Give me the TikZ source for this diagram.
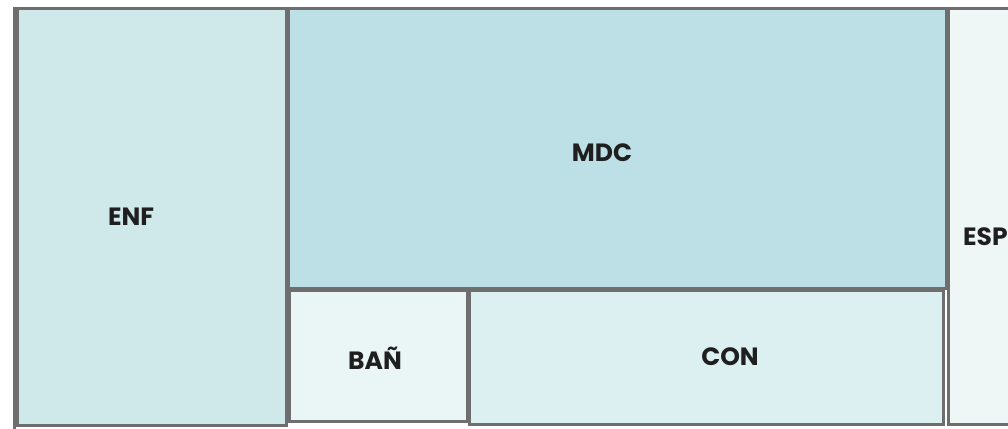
\documentclass[tikz,border=0pt]{standalone}
\usepackage{fontspec}
\setmainfont{Poppins}
\definecolor{edge}{HTML}{6E6E6E}
\definecolor{cEnf}{HTML}{CFE9EA}
\definecolor{cMdc}{HTML}{BCE0E5}
\definecolor{cBan}{HTML}{EAF5F6}
\definecolor{cCon}{HTML}{DCEFF1}
\definecolor{cEsp}{HTML}{EEF6F6}
\tikzset{
  room/.style={draw=edge, line width=3pt, anchor=north west, inner sep=0pt, outer sep=0pt},
  lbl/.style={font=\fontsize{25}{28}\selectfont\bfseries, text=black!88, inner sep=0pt}
}
\begin{document}
\begin{tikzpicture}[x=1pt,y=-1pt]
\useasboundingbox (0,0) rectangle (1008,428);
\fill[white] (0,0) rectangle (1008,428);
\node[draw=edge, line width=3pt, anchor=north west, minimum width=1020pt, minimum height=440pt, inner sep=0pt] (frame) at (13,7) {};
\node[room, fill=cEnf, minimum width=269pt, minimum height=416pt] (enf) at (17,9) {};
\node[room, fill=cMdc, minimum width=658pt, minimum height=279pt] (mdc) at (288,9) {};
\node[room, fill=cBan, minimum width=178pt, minimum height=131pt] (ban) at (289,290) {};
\node[room, fill=cCon, minimum width=474pt, minimum height=134pt] (con) at (469,290) {};
\node[room, fill=cEsp, minimum width=70pt, minimum height=415pt] (esp) at (948,9) {};
\node[lbl] (tenf) at (131,217) {ENF};
\node[lbl] (tmdc) at (602,153) {MDC};
\node[lbl] (tban) at (375,358) {BAÑ};
\node[lbl] (tcon) at (730,357) {CON};
\node[lbl, anchor=west] (tesp) at (963,237) {ESP};
\end{tikzpicture}
\end{document}
